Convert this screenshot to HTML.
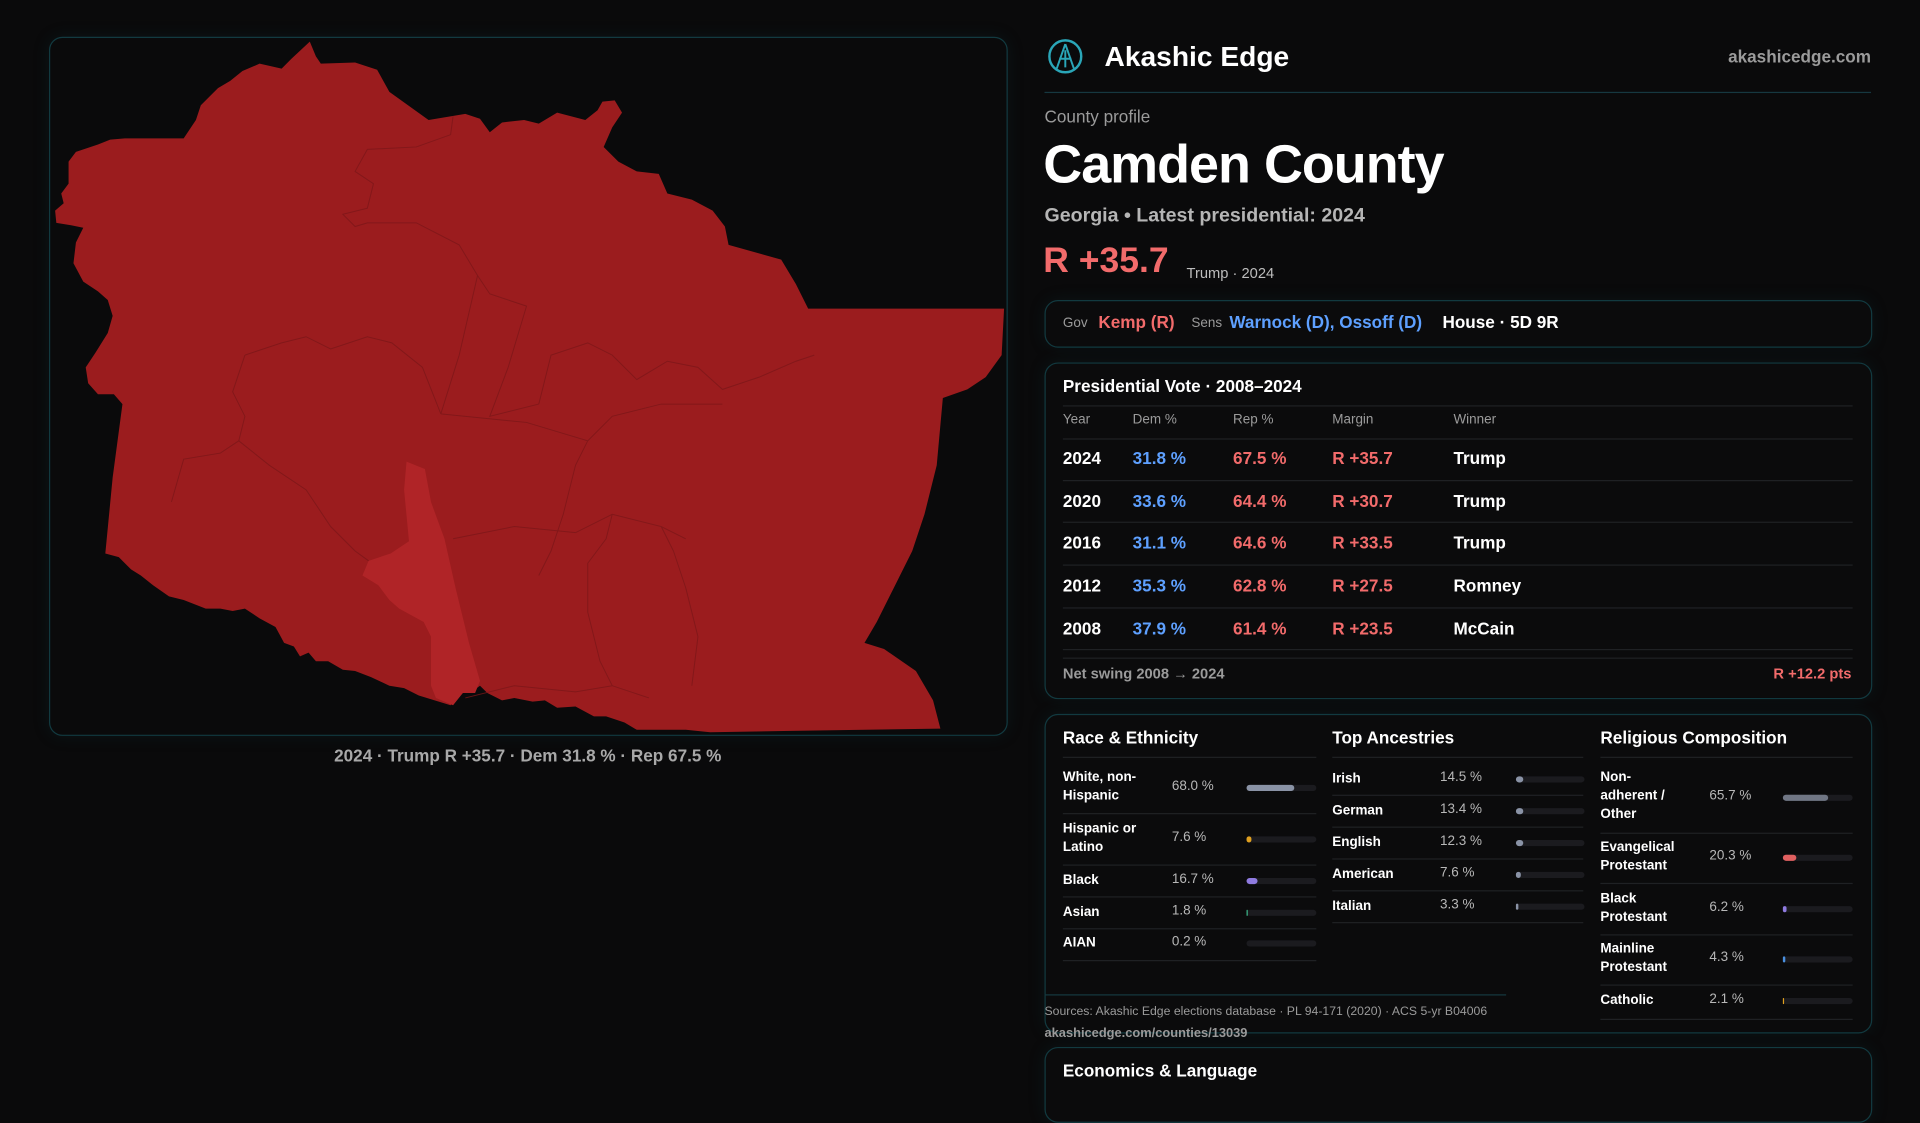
<!DOCTYPE html>
<html><head><meta charset="utf-8"><style>
html,body{margin:0;padding:0;background:#0a0a0b;width:1920px;height:1080px;overflow:hidden}
#w{position:absolute;left:0;top:0;width:1568px;height:882px;transform:scale(1.22449);transform-origin:0 0;font-family:"Liberation Sans",sans-serif;color:#fff}
.a{position:absolute;white-space:nowrap}
.card{position:absolute;border:1px solid #123a40;border-radius:11px;background:#0b0b0c;box-shadow:0 0 14px rgba(20,80,90,.15)}
.g{color:#9b9b9b}.r{color:#f26b6b}.b{color:#5ea0ff}
.ln{position:absolute;height:1px;background:#1f2124}
.trk{position:absolute;height:5px;border-radius:3px;background:#1b1b1f}
.trk i{position:absolute;left:0;top:0;height:5px;border-radius:3px}
.t{font-size:11px;font-weight:bold;line-height:15px}
.v{font-size:11px;color:#b8b8b8}
</style></head><body><div id="w">
<div class="card" style="left:40px;top:30px;width:781px;height:569px;background:#0a0a0b"></div>
<svg class="a" style="left:0;top:0" width="1568" height="882" viewBox="0 0 1568 882">
<path fill="#9b1c1e" d="M253,34 L258,46 L262,52 L290,51 L308,57 L318,75 L350,98 L380,93 L392,97 L400,108 L410,100 L428,98 L440,101 L455,92 L478,98 L488,90 L492,83 L502,82 L508,92 L500,104 L493,120 L505,132 L520,140 L538,142 L545,158 L565,163 L582,172 L592,185 L595,200 L638,212 L650,232 L660,252 L820,252 L818,290 L805,308 L790,318 L770,325 L765,380 L755,420 L745,450 L730,480 L716,508 L706,525 L722,530 L748,548 L762,572 L768,595 L640,597 L580,598 L560,596 L520,596 L510,590 L495,585 L485,585 L470,577 L455,578 L445,572 L435,573 L420,570 L410,572 L398,566 L392,560 L385,565 L378,566 L368,576 L355,572 L342,568 L330,562 L318,560 L303,553 L290,548 L280,547 L268,540 L258,540 L252,533 L245,536 L240,528 L232,525 L225,512 L212,505 L200,497 L190,499 L180,497 L168,497 L150,490 L138,487 L125,478 L115,470 L107,465 L97,455 L86,452 L92,390 L100,330 L93,322 L80,322 L72,313 L70,300 L78,288 L88,272 L92,258 L88,245 L80,238 L68,230 L60,215 L62,198 L68,186 L58,184 L46,182 L45,172 L52,166 L50,158 L56,150 L56,132 L62,124 L80,118 L90,114 L102,113 L150,113 L160,98 L164,86 L178,72 L188,66 L198,58 L212,52 L230,56 L238,48 Z"/>
<path fill="#b02427" d="M332,377 L347,383 L352,410 L363,440 L372,480 L383,525 L392,556 L388,566 L378,566 L370,576 L356,570 L352,560 L352,520 L346,508 L326,497 L318,490 L309,478 L296,470 L301,458 L319,452 L334,442 L330,400 Z"/>
<g fill="none" stroke="#7d1719" stroke-width="0.8" opacity=".8">
<path d="M370,95 L368,110 L340,120 L300,122 L290,140 L305,150 L300,170 L280,175 L290,185 L300,182 L340,182 L375,200 L390,225 L400,240 L430,250 L415,300 L400,340 L440,330"/>
<path d="M390,225 L375,290 L360,338"/>
<path d="M440,330 L450,290 L480,280 L500,290 L520,310 L545,295 L570,300 L590,318 L620,308 L650,295 L665,290"/>
<path d="M200,290 L230,280 L250,275 L270,285 L300,275 L320,280 L345,300 L360,338"/>
<path d="M200,290 L190,320 L200,340 L195,360 L180,370 L150,375 L140,410"/>
<path d="M360,338 L430,345 L480,360 L500,340 L540,330 L590,330"/>
<path d="M480,360 L470,380 L460,420 L450,450 L440,470"/>
<path d="M195,360 L220,380 L250,400 L270,430 L290,450 L301,458"/>
<path d="M370,440 L420,430 L470,435 L500,420 L540,430 L560,440"/>
<path d="M500,420 L495,440 L480,460 L480,500 L490,540 L500,560"/>
<path d="M540,430 L550,450 L560,480 L570,520 L565,560"/>
<path d="M380,570 L420,560 L470,565 L500,560 L530,570"/>
</g>
</svg>
<div class="a" style="left:0;width:862px;text-align:center;top:609px;font-size:14px;color:#a8a8a8;font-weight:bold">2024 · Trump R +35.7 · Dem 31.8 % · Rep 67.5 %</div>

<svg class="a" style="left:855px;top:31px" width="30" height="30" viewBox="0 0 30 30"><circle cx="15" cy="15" r="13" fill="none" stroke="#2aa6b8" stroke-width="2"/><path d="M15,5 L8,25 M15,5 L22,25 M10,17 L20,17 M15,10 L15,24" stroke="#2aa6b8" stroke-width="1.6" fill="none"/></svg>
<div class="a" style="left:902px;top:33px;font-size:23px;font-weight:bold">Akashic Edge</div>
<div class="a g" style="right:40px;top:38px;font-size:14px;font-weight:bold">akashicedge.com</div>
<div class="ln" style="left:853px;width:675px;top:75px;background:#163840"></div>
<div class="a g" style="left:853px;top:87px;font-size:14px">County profile</div>
<div class="a" style="left:852px;top:110px;font-size:44px;font-weight:bold;letter-spacing:-0.8px">Camden County</div>
<div class="a" style="left:853px;top:168px;font-size:16px;font-weight:bold;color:#b5b5b5">Georgia • Latest presidential: 2024</div>
<div class="a r" style="left:852px;top:197px;font-size:29px;font-weight:bold">R +35.7</div>
<div class="a" style="left:969px;top:216px;font-size:12px;color:#bdbdbd">Trump · 2024</div>

<div class="card" style="left:853px;top:245px;width:674px;height:37px"></div>
<div class="a g" style="left:868px;top:258px;font-size:11px">Gov</div>
<div class="a r" style="left:897px;top:255px;font-size:14px;font-weight:bold">Kemp (R)</div>
<div class="a g" style="left:973px;top:258px;font-size:11px">Sens</div>
<div class="a b" style="left:1004px;top:255px;font-size:14px;font-weight:bold">Warnock (D), Ossoff (D)</div>
<div class="a" style="left:1178px;top:255px;font-size:14px;font-weight:bold">House · 5D 9R</div>

<div class="card" style="left:853px;top:296px;width:674px;height:273px"></div>
<div class="a" style="left:868px;top:307px;font-size:14px;font-weight:bold">Presidential Vote · 2008–2024</div>
<div class="ln" style="left:868px;width:645px;top:331px"></div>
<div class="a g" style="left:868px;top:337px;font-size:11px">Year</div>
<div class="a g" style="left:925px;top:337px;font-size:11px">Dem %</div>
<div class="a g" style="left:1007px;top:337px;font-size:11px">Rep %</div>
<div class="a g" style="left:1088px;top:337px;font-size:11px">Margin</div>
<div class="a g" style="left:1187px;top:337px;font-size:11px">Winner</div>
<div class="ln" style="left:868px;width:645px;top:358px"></div>
<div style="position:absolute;left:868px;top:358px;width:645px;font-size:14px;font-weight:bold">
<div style="position:relative;height:34px;border-bottom:1px solid #1f2124"><span class="a" style="left:0;top:8px">2024</span><span class="a b" style="left:57px;top:8px">31.8 %</span><span class="a r" style="left:139px;top:8px">67.5 %</span><span class="a r" style="left:220px;top:8px">R +35.7</span><span class="a" style="left:319px;top:8px">Trump</span></div>
<div style="position:relative;height:33px;border-bottom:1px solid #1f2124"><span class="a" style="left:0;top:8px">2020</span><span class="a b" style="left:57px;top:8px">33.6 %</span><span class="a r" style="left:139px;top:8px">64.4 %</span><span class="a r" style="left:220px;top:8px">R +30.7</span><span class="a" style="left:319px;top:8px">Trump</span></div>
<div style="position:relative;height:34px;border-bottom:1px solid #1f2124"><span class="a" style="left:0;top:8px">2016</span><span class="a b" style="left:57px;top:8px">31.1 %</span><span class="a r" style="left:139px;top:8px">64.6 %</span><span class="a r" style="left:220px;top:8px">R +33.5</span><span class="a" style="left:319px;top:8px">Trump</span></div>
<div style="position:relative;height:34px;border-bottom:1px solid #1f2124"><span class="a" style="left:0;top:8px">2012</span><span class="a b" style="left:57px;top:8px">35.3 %</span><span class="a r" style="left:139px;top:8px">62.8 %</span><span class="a r" style="left:220px;top:8px">R +27.5</span><span class="a" style="left:319px;top:8px">Romney</span></div>
<div style="position:relative;height:33px;border-bottom:1px solid #1f2124"><span class="a" style="left:0;top:8px">2008</span><span class="a b" style="left:57px;top:8px">37.9 %</span><span class="a r" style="left:139px;top:8px">61.4 %</span><span class="a r" style="left:220px;top:8px">R +23.5</span><span class="a" style="left:319px;top:8px">McCain</span></div>
</div>
<div class="ln" style="left:868px;width:645px;top:537px"></div>
<div class="a g" style="left:868px;top:543px;font-size:12px;font-weight:bold">Net swing 2008 → 2024</div>
<div class="a r" style="right:56px;top:543px;font-size:12px;font-weight:bold">R +12.2 pts</div>

<div class="card" style="left:853px;top:583px;width:674px;height:259px"></div>
<div class="a" style="left:868px;top:594px;font-size:14px;font-weight:bold">Race &amp; Ethnicity</div>
<div class="a" style="left:1088px;top:594px;font-size:14px;font-weight:bold">Top Ancestries</div>
<div class="a" style="left:1307px;top:594px;font-size:14px;font-weight:bold">Religious Composition</div>
<div class="ln" style="left:868px;width:207px;top:618px"></div>
<div class="ln" style="left:1088px;width:205px;top:618px"></div>
<div class="ln" style="left:1307px;width:206px;top:618px"></div>

<div class="a t" style="left:868px;top:628px">White, non-<br>Hispanic</div><div class="a v" style="left:957px;top:636px">68.0 %</div><div class="trk" style="left:1018px;top:641px;width:57px"><i style="width:39px;background:#8a93a6"></i></div>
<div class="ln" style="left:868px;width:207px;top:664px"></div>
<div class="a t" style="left:868px;top:670px">Hispanic or<br>Latino</div><div class="a v" style="left:957px;top:678px">7.6 %</div><div class="trk" style="left:1018px;top:683px;width:57px"><i style="width:4px;background:#e0a020"></i></div>
<div class="ln" style="left:868px;width:207px;top:706px"></div>
<div class="a t" style="left:868px;top:712px">Black</div><div class="a v" style="left:957px;top:712px">16.7 %</div><div class="trk" style="left:1018px;top:717px;width:57px"><i style="width:9px;background:#8f7be0"></i></div>
<div class="ln" style="left:868px;width:207px;top:732px"></div>
<div class="a t" style="left:868px;top:738px">Asian</div><div class="a v" style="left:957px;top:738px">1.8 %</div><div class="trk" style="left:1018px;top:743px;width:57px"><i style="width:1px;background:#3cb88a"></i></div>
<div class="ln" style="left:868px;width:207px;top:758px"></div>
<div class="a t" style="left:868px;top:763px">AIAN</div><div class="a v" style="left:957px;top:763px">0.2 %</div><div class="trk" style="left:1018px;top:768px;width:57px"></div>
<div class="ln" style="left:868px;width:207px;top:784px"></div>

<div class="a t" style="left:1088px;top:629px">Irish</div><div class="a v" style="left:1176px;top:629px">14.5 %</div><div class="trk" style="left:1238px;top:634px;width:56px"><i style="width:6px;background:#8a93a6"></i></div>
<div class="ln" style="left:1088px;width:205px;top:649px"></div>
<div class="a t" style="left:1088px;top:655px">German</div><div class="a v" style="left:1176px;top:655px">13.4 %</div><div class="trk" style="left:1238px;top:660px;width:56px"><i style="width:6px;background:#8a93a6"></i></div>
<div class="ln" style="left:1088px;width:205px;top:675px"></div>
<div class="a t" style="left:1088px;top:681px">English</div><div class="a v" style="left:1176px;top:681px">12.3 %</div><div class="trk" style="left:1238px;top:686px;width:56px"><i style="width:6px;background:#8a93a6"></i></div>
<div class="ln" style="left:1088px;width:205px;top:701px"></div>
<div class="a t" style="left:1088px;top:707px">American</div><div class="a v" style="left:1176px;top:707px">7.6 %</div><div class="trk" style="left:1238px;top:712px;width:56px"><i style="width:4px;background:#8a93a6"></i></div>
<div class="ln" style="left:1088px;width:205px;top:727px"></div>
<div class="a t" style="left:1088px;top:733px">Italian</div><div class="a v" style="left:1176px;top:733px">3.3 %</div><div class="trk" style="left:1238px;top:738px;width:56px"><i style="width:2px;background:#8a93a6"></i></div>
<div class="ln" style="left:1088px;width:205px;top:753px"></div>

<div class="a t" style="left:1307px;top:628px">Non-<br>adherent /<br>Other</div><div class="a v" style="left:1396px;top:644px">65.7 %</div><div class="trk" style="left:1456px;top:649px;width:57px"><i style="width:37px;background:#707684"></i></div>
<div class="ln" style="left:1307px;width:206px;top:680px"></div>
<div class="a t" style="left:1307px;top:685px">Evangelical<br>Protestant</div><div class="a v" style="left:1396px;top:693px">20.3 %</div><div class="trk" style="left:1456px;top:698px;width:57px"><i style="width:11px;background:#e06060"></i></div>
<div class="ln" style="left:1307px;width:206px;top:721px"></div>
<div class="a t" style="left:1307px;top:727px">Black<br>Protestant</div><div class="a v" style="left:1396px;top:735px">6.2 %</div><div class="trk" style="left:1456px;top:740px;width:57px"><i style="width:3px;background:#8f7be0"></i></div>
<div class="ln" style="left:1307px;width:206px;top:763px"></div>
<div class="a t" style="left:1307px;top:768px">Mainline<br>Protestant</div><div class="a v" style="left:1396px;top:776px">4.3 %</div><div class="trk" style="left:1456px;top:781px;width:57px"><i style="width:2px;background:#4a90e0"></i></div>
<div class="ln" style="left:1307px;width:206px;top:804px"></div>
<div class="a t" style="left:1307px;top:810px">Catholic</div><div class="a v" style="left:1396px;top:810px">2.1 %</div><div class="trk" style="left:1456px;top:815px;width:57px"><i style="width:1px;background:#e0a020"></i></div>
<div class="ln" style="left:1307px;width:206px;top:832px"></div>

<div class="ln" style="left:853px;width:377px;top:812px;background:#163840"></div>
<div class="a g" style="left:853px;top:821px;font-size:10px">Sources: Akashic Edge elections database · PL 94-171 (2020) · ACS 5-yr B04006</div>
<div class="a g" style="left:853px;top:838px;font-size:10.5px;font-weight:bold">akashicedge.com/counties/13039</div>

<div class="card" style="left:853px;top:855px;width:674px;height:60px"></div>
<div class="a" style="left:868px;top:866px;font-size:14px;font-weight:bold">Economics &amp; Language</div>
</div></body></html>
